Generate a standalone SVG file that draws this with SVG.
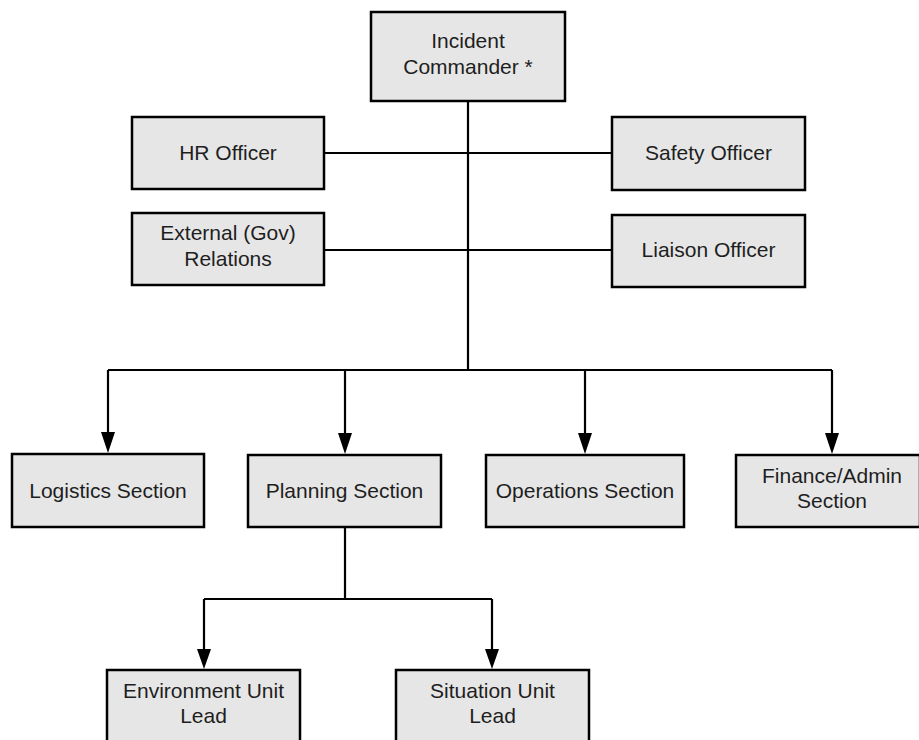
<svg xmlns="http://www.w3.org/2000/svg" width="919" height="740" viewBox="0 0 919 740">
<defs>
<style>
.box{fill:#e6e6e6;stroke:#000;stroke-width:2.5}
.t{font-family:"Liberation Sans",Arial,sans-serif;font-size:21px;fill:#1e1e1e;text-anchor:middle}
.c{fill:none;stroke:#000;stroke-width:2.2}
.ah{fill:#000}
</style>
</defs>
<rect width="919" height="740" fill="#fff"/>
<g id="connectors">
<path class="c" d="M468,101 V370"/>
<path class="c" d="M324,153 H612"/>
<path class="c" d="M324,250 H612"/>
<path class="c" d="M108,370 H832"/>
<path class="c" d="M108,370 V432"/>
<path class="c" d="M345,370 V433"/>
<path class="c" d="M585,370 V433"/>
<path class="c" d="M832,370 V433"/>
<polygon class="ah" points="101,432 115,432 108,453"/>
<polygon class="ah" points="338,433 352,433 345,454"/>
<polygon class="ah" points="578,433 592,433 585,454"/>
<polygon class="ah" points="825,433 839,433 832,454"/>
<path class="c" d="M345,527 V599 M204,599 H492 M204,599 V650 M492,599 V650"/>
<polygon class="ah" points="197,649 211,649 204,669"/>
<polygon class="ah" points="485,649 499,649 492,669"/>
</g>
<g id="incident-commander">
<rect class="box" x="371" y="12" width="194" height="89"/>
<text class="t" x="468" y="48">Incident</text>
<text class="t" x="468" y="74">Commander *</text>
</g>
<g id="hr-officer">
<rect class="box" x="132" y="117" width="192" height="72"/>
<text class="t" x="228" y="160">HR Officer</text>
</g>
<g id="safety-officer">
<rect class="box" x="612" y="117" width="193" height="73"/>
<text class="t" x="708.5" y="160">Safety Officer</text>
</g>
<g id="external-relations">
<rect class="box" x="132" y="213" width="192" height="72"/>
<text class="t" x="228" y="240">External (Gov)</text>
<text class="t" x="228" y="266">Relations</text>
</g>
<g id="liaison-officer">
<rect class="box" x="612" y="215" width="193" height="72"/>
<text class="t" x="708.5" y="257">Liaison Officer</text>
</g>
<g id="logistics-section">
<rect class="box" x="12" y="454" width="192" height="73"/>
<text class="t" x="108" y="498">Logistics Section</text>
</g>
<g id="planning-section">
<rect class="box" x="248" y="455" width="193" height="72"/>
<text class="t" x="344.5" y="498">Planning Section</text>
</g>
<g id="operations-section">
<rect class="box" x="486" y="455" width="198" height="72"/>
<text class="t" x="585" y="498">Operations Section</text>
</g>
<g id="finance-admin-section">
<rect class="box" x="736" y="455" width="184" height="72"/>
<text class="t" x="832" y="483">Finance/Admin</text>
<text class="t" x="832" y="508">Section</text>
</g>
<g id="environment-unit-lead">
<rect class="box" x="107" y="670" width="193" height="80"/>
<text class="t" x="203.5" y="698">Environment Unit</text>
<text class="t" x="203.5" y="723">Lead</text>
</g>
<g id="situation-unit-lead">
<rect class="box" x="396" y="670" width="193" height="80"/>
<text class="t" x="492.5" y="698">Situation Unit</text>
<text class="t" x="492.5" y="723">Lead</text>
</g>
</svg>
